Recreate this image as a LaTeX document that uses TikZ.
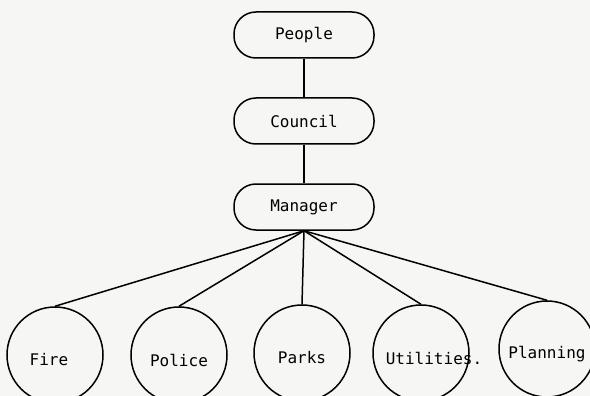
\documentclass[tikz,border=0pt]{standalone}
\usepackage{fontspec}
\setmonofont{DejaVu Sans Mono}
\usepackage{tikz}

\tikzset{
  office/.style={draw, line width=1.5pt, rounded corners=22pt, minimum width=140pt, minimum height=46pt, font=\ttfamily\fontsize{16}{19}\selectfont},
  dept/.style={draw, circle, line width=1.5pt, minimum size=96pt, inner sep=0pt},
  deptname/.style={font=\ttfamily\fontsize{16}{19}\selectfont, yshift=-5pt}
}

\begin{document}
\begin{tikzpicture}[x=1pt,y=1pt]
\useasboundingbox[fill={rgb,255:red,246;green,246;blue,244}] (0,0) rectangle (590,-396);
% top of the chart
\node[office] (people) at (304,-35) {People};
\node[office] (council) at (304,-121) {Council};
\node[office] (manager) at (304,-207) {Manager};
\draw[line width=1.5pt] (people) -- (council);
\draw[line width=1.5pt] (council) -- (manager);
% departments
\node[dept, label={[deptname, xshift=-6pt]center:Fire}] (fire) at (55,-355) {};
\node[dept, label={[deptname]center:Police}] (police) at (179,-355) {};
\node[dept, label={[deptname]center:Parks}] (parks) at (302,-353) {};
\node[dept, label={[deptname, xshift=13pt]center:Utilities.}] (utilities) at (421,-353) {};
\node[dept, label={[deptname]center:Planning}] (planning) at (547,-349) {};
\foreach \d in {fire,police,parks,utilities,planning}
	\draw[line width=1.5pt] (manager.south) -- (\d.north);
\end{tikzpicture}
\end{document}
